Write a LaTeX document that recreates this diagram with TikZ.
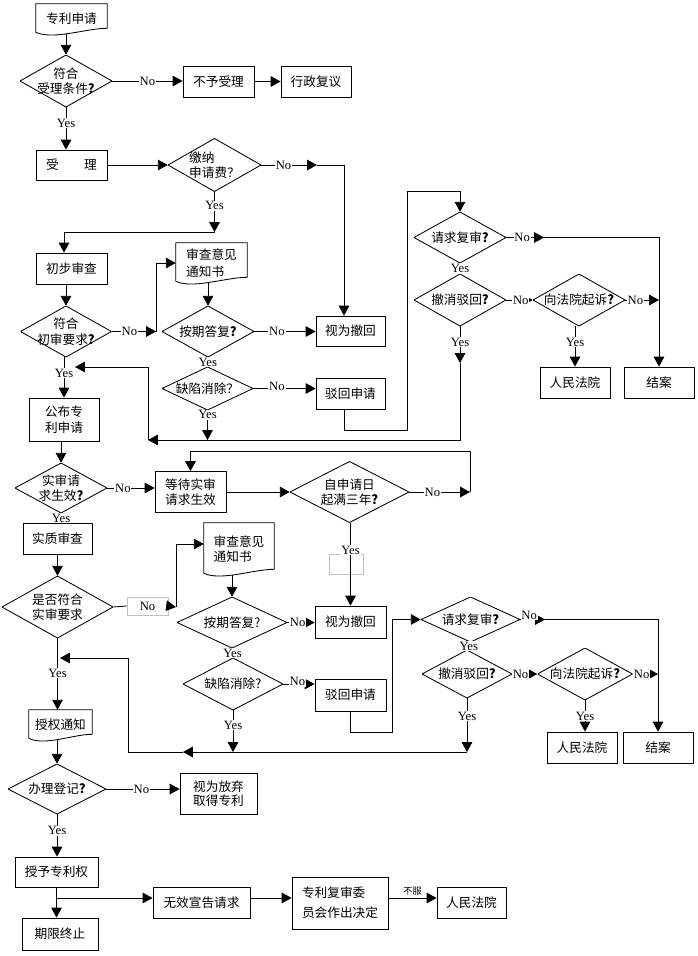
\documentclass[tikz,border=0pt]{standalone}
\usepackage{fontspec}
\setmainfont{Noto Sans CJK SC}
\newfontfamily\latfont{Liberation Serif}
\usetikzlibrary{arrows.meta}
\usetikzlibrary{calc}
\definecolor{fcink}{HTML}{000000}
\definecolor{fcgray}{HTML}{C0C0C0}
\newcommand{\fcfont}{\fontsize{9}{11}\selectfont}
\tikzset{
  sz/.style 2 args={minimum width=#1*0.025cm, minimum height=#2*0.025cm},
  fcbox/.style={
    draw=fcink, line width=0.6pt, inner sep=0pt, align=center, font=\fcfont},
  fcdoc/.style={inner sep=0pt, align=left, font=\fcfont},
  fcdec/.style={
    inner sep=0pt, align=center, font=\fcfont,
    path picture={
      \draw[fcink, line width=0.6pt]
        (path picture bounding box.north) -- (path picture bounding box.east)
        -- (path picture bounding box.south) -- (path picture bounding box.west)
        -- cycle;}},
  fcghost/.style={draw=fcgray, line width=0.6pt, inner sep=0pt,
    font=\latfont\fontsize{9}{10}\selectfont},
  fcline/.style={draw=fcink, line width=0.6pt},
  fcarrow/.style={fcline, -{Triangle[length=7pt, width=7.5pt]}},
  fclab/.style={font=\latfont\fontsize{9}{10}\selectfont, fill=white,
    inner sep=0.6pt},
}
% outline of a document symbol with a wavy lower edge
\newcommand{\docwave}[1]{%
  \draw[fcline] ($(#1.south west)+(0,-2)$) -- (#1.north west) -- (#1.north east)
    -- ($(#1.south east)+(0,-6)$)
    .. controls ($(#1.south)!0.4!(#1.south east)+(0,-6)$)
       and ($(#1.south west)!0.5!(#1.south)+(0,6)$) .. ($(#1.south west)+(0,-2)$);}

\begin{document}
\begin{tikzpicture}[x=0.025cm, y=-0.025cm]
\useasboundingbox (0,0) rectangle (698,956);

% Filing and acceptance.
\node[fcdoc, sz={71}{30}] (apply) at (71.5,19) {专利申请};
\docwave{apply}
\node[fcdec, sz={92}{52}] (okfile) at (66,81) {符合\\受理条件\textbf{?}};
\node[fcbox, sz={71}{31}] (refuse) at (218.5,81.5) {不予受理};
\node[fcbox, sz={70}{31}] (appeal) at (316,81.5) {行政复议};
\node[fcbox, sz={71}{30}] (accept) at (71.5,165) {受　　理};
\node[fcdec, sz={93}{53}, align=left] (feepaid) at (214.5,165) {缴纳\\申请费？};

% Preliminary examination.
\node[fcbox, sz={71}{31}] (prelim) at (71.5,268.5) {初步审查};
\node[fcdec, sz={91}{51}] (okprelim) at (66,331.5) {符合\\初审要求\textbf{?}};
\node[fcdoc, sz={71}{40}, font=\fontsize{9}{12}\selectfont] (notice1)
  at (211.5,263) {审查意见\\通知书};
\docwave{notice1}
\node[fcdec, sz={92}{51}] (reply1) at (208,331.5) {按期答复\textbf{?}};
\node[fcdec, sz={91}{43}] (fixed1) at (207.5,388.5) {缺陷消除？};
\node[fcbox, sz={69}{30}] (lapse1) at (350.5,331) {视为撤回};
\node[fcbox, sz={69}{31}] (reject1) at (350.5,393.5) {驳回申请};
\node[fcdec, sz={92}{51}] (recheck1) at (460,237.5) {请求复审\textbf{?}};
\node[fcdec, sz={92}{52}] (revoke1) at (460,300) {撤消驳回\textbf{?}};
\node[fcdec, sz={92}{52}] (sue1) at (579,300) {向法院起诉\textbf{?}};
\node[fcbox, sz={70}{31}] (court1) at (575,382.5) {人民法院};
\node[fcbox, sz={70}{31}] (close1) at (659,382.5) {结案};

% Publication and request for substantive examination.
\node[fcbox, sz={70}{43}] (publish) at (64,419.5) {公布专\\利申请};
\node[fcdec, sz={92}{50}] (subreq) at (61,488) {实审请\\求生效\textbf{?}};
\node[fcbox, sz={71}{41}] (wait) at (190.5,492) {等待实审\\请求生效};
\node[fcdec, sz={119}{61}] (threeyr) at (349.5,492) {自申请日\\起满三年\textbf{?}};
\node[fcghost, sz={34}{20}] (stub) at (346,564) {};

% Substantive examination.
\node[fcbox, sz={69}{31}] (subexam) at (57.5,538.5) {实质审查};
\node[fcdec, sz={111}{62}] (oksub) at (57.5,607) {是否符合\\实审要求};
\node[fcghost, sz={41}{18}] (nobox) at (147.5,606) {No};
\node[fcdoc, sz={70}{52}, font=\fontsize{9}{11}\selectfont] (notice2)
  at (239,549) {审查意见\\通知书};
\docwave{notice2}
\node[fcdec, sz={110}{51}] (reply2) at (232,622.5) {按期答复?};
\node[fcbox, sz={71}{32}] (lapse2) at (350.5,622) {视为撤回};
\node[fcdec, sz={100}{52}] (fixed2) at (233,684) {缺陷消除?};
\node[fcbox, sz={71}{32}] (reject2) at (350.5,695) {驳回申请};
\node[fcdec, sz={99}{45}] (recheck2) at (470.5,619.5) {请求复审\textbf{?}};
\node[fcdec, sz={90}{48}] (revoke2) at (467,674) {撤消驳回\textbf{?}};
\node[fcdec, sz={95}{52}] (sue2) at (585,674) {向法院起诉\textbf{?}};
\node[fcbox, sz={70}{31}] (court2) at (582,747.5) {人民法院};
\node[fcbox, sz={70}{31}] (close2) at (658,747.5) {结案};

% Grant and afterwards.
\node[fcdoc, sz={63}{30}] (grantnote) at (60.5,725) {授权通知};
\docwave{grantnote}
\node[fcdec, sz={98}{50}] (register) at (57,789) {办理登记\textbf{?}};
\node[fcbox, sz={77}{41}, align=left, font=\fontsize{9}{9.5}\selectfont]
  (abandon) at (218.5,793.5) {视为放弃\\取得专利};
\node[fcbox, sz={83}{30}] (grant) at (56.5,872) {授予专利权};
\node[fcbox, sz={76}{32}] (expire) at (60,934) {期限终止};
\node[fcbox, sz={97}{31}] (invalid) at (201.5,902.5) {无效宣告请求};
\node[fcbox, sz={96}{52}, align=left, font=\fontsize{9}{14}\selectfont]
  (board) at (340,903) {专利复审委\\员会作出决定};
\node[fcbox, sz={69}{31}] (court3) at (471.5,902.5) {人民法院};

% Bends of the connectors.
\coordinate (feemid) at (317,165);
\coordinate (feeturn) at (344,165);
\coordinate (prelimin) at (64,232);
\coordinate (prelimno) at (156,331.5);
\coordinate (r1a) at (344,430);
\coordinate (r1b) at (407,430);
\coordinate (r1c) at (407,191);
\coordinate (r1d) at (460,191);
\coordinate (rc1mid) at (544,237.5);
\coordinate (rc1turn) at (659,237.5);
\coordinate (rv1a) at (460,363);
\coordinate (rv1b) at (460,440);
\coordinate (back1a) at (148,440);
\coordinate (back1b) at (148,367);
\coordinate (back1c) at (75,367);
\coordinate (thrno) at (470,492);
\coordinate (thrup) at (470,451);
\coordinate (subno) at (176,607);
\coordinate (subup) at (176,544);
\coordinate (r2a) at (350.5,732);
\coordinate (r2b) at (392,732);
\coordinate (r2c) at (392,619.5);
\coordinate (rc2mid) at (545,619.5);
\coordinate (rc2turn) at (658,619.5);
\coordinate (back2a) at (128,752);
\coordinate (back2m) at (183,752);
\coordinate (back2b) at (128,658);
\coordinate (back2c) at (60,658);
\coordinate (gbr) at (56.5,898);

% Filing and acceptance.
\draw[fcarrow] (okfile.north |- apply.south) -- (okfile.north);
\draw[fcarrow] (okfile.east) -- node[fclab]{No} (okfile.east -| refuse.west);
\draw[fcarrow] (refuse.east) -- (appeal.west);
\draw[fcarrow] (okfile.south) -- node[fclab, pos=0.37]{Yes}
  (okfile.south |- accept.north);
\draw[fcarrow] (accept.east) -- (feepaid.west);
\draw[fcarrow] (feepaid.east) -- node[fclab, pos=0.4]{No} (feemid);
\draw[fcarrow] (feemid) -- (feeturn) -- (feeturn |- lapse1.north);
\draw[fcarrow] (feepaid.south) -- node[fclab, pos=0.35]{Yes}
  (feepaid.south |- prelimin);
\draw[fcarrow] (feepaid.south |- prelimin) -- (prelimin)
  -- (prelimin |- prelim.north);

% Preliminary examination.
\draw[fcarrow] (okprelim.north |- prelim.south) -- (okprelim.north);
\draw[fcarrow] (okprelim.east) -- node[fclab, pos=0.4]{No} (prelimno);
\draw[fcarrow] (prelimno) -- (prelimno |- notice1.west) -- (notice1.west);
\draw[fcarrow] (reply1.north |- notice1.south) -- (reply1.north);
\draw[fcarrow] (reply1.east) -- node[fclab, pos=0.37]{No}
  (reply1.east -| lapse1.west);
\draw[fcline] (reply1.south) -- node[fclab]{Yes} (fixed1.north);
\draw[fcarrow] (fixed1.east) -- node[fclab, pos=0.38, yshift=1.5pt]{No}
  (fixed1.east -| reject1.west);
\draw[fcarrow] (r1a |- reject1.south) -- (r1a) -- (r1b) -- (r1c) -- (r1d)
  -- (recheck1.north);
\draw[fcarrow] (recheck1.east) -- node[fclab, pos=0.42]{No} (rc1mid);
\draw[fcarrow] (rc1mid) -- (rc1turn) -- (rc1turn |- close1.north);
\draw[fcline] (recheck1.south) -- node[fclab]{Yes} (revoke1.north);
\draw[fcarrow] (revoke1.east) -- node[fclab, pos=0.55]{No} (sue1.west);
\draw[fcarrow] (sue1.east) -- node[fclab, pos=0.3]{No} (sue1.east -| rc1turn);
\draw[fcarrow] (court1.north |- sue1.south) -- node[fclab, pos=0.4]{Yes}
  (court1.north);
\draw[fcarrow] (revoke1.south) -- node[fclab, pos=0.43]{Yes} (rv1a);
\draw[fcarrow] (rv1a) -- (rv1b) -- (back1a);
\draw[fcarrow] (back1a) -- (back1b) -- (back1c);
\draw[fcarrow] (fixed1.south) -- node[fclab, pos=0.15]{Yes}
  (fixed1.south |- back1a);

% Publication and the three-year limit.
\draw[fcarrow] (publish.north |- okprelim.south) -- node[fclab, pos=0.4]{Yes}
  (publish.north);
\draw[fcarrow] (subreq.north |- publish.south) -- (subreq.north);
\draw[fcarrow] (subreq.east) -- node[fclab, pos=0.33]{No}
  (subreq.east -| wait.west);
\draw[fcarrow] (wait.east) -- (wait.east -| threeyr.west);
\draw[fcarrow] (threeyr.east) -- node[fclab, pos=0.38]{No} (thrno);
\draw[fcarrow] (thrno) -- (thrup) -- (thrup -| wait.north) -- (wait.north);
\draw[fcarrow] (lapse2.north |- threeyr.south) -- node[fclab, pos=0.33]{Yes}
  (lapse2.north);
\draw[fcline] (subreq.south) -- node[fclab]{Yes} (subreq.south |- subexam.north);

% Substantive examination.
\draw[fcarrow] (oksub.north |- subexam.south) -- (oksub.north);
\draw[fcline] (oksub.east) -- (nobox.west);
\draw[fcarrow] (nobox.east) -- (subno);
\draw[fcarrow] (subno) -- (subup) -- (subup -| notice2.west);
\draw[fcarrow] (reply2.north |- notice2.south) -- (reply2.north);
\draw[fcarrow] (reply2.east) -- node[fclab, pos=0.38]{No}
  (reply2.east -| lapse2.west);
\draw[fcline] (reply2.south) -- node[fclab]{Yes} (fixed2.north);
\draw[fcarrow] (fixed2.east) -- node[fclab, pos=0.45, yshift=1.5pt]{No}
  (fixed2.east -| reject2.west);
\draw[fcarrow] (reject2.south) -- (r2a) -- (r2b) -- (r2c) -- (recheck2.west);
\draw[fcarrow] (recheck2.east) -- node[fclab, pos=0.36, yshift=3pt]{No} (rc2mid);
\draw[fcarrow] (rc2mid) -- (rc2turn) -- (rc2turn |- close2.north);
\draw[fcline] (recheck2.south) -- node[fclab]{Yes} (revoke2.north);
\draw[fcarrow] (revoke2.east) -- node[fclab, pos=0.33]{No} (sue2.west);
\draw[fcarrow] (sue2.east) -- node[fclab, pos=0.35]{No} (sue2.east -| rc2turn);
\draw[fcarrow] (sue2.south) -- node[fclab]{Yes} (sue2.south |- court2.north);
\draw[fcarrow] (revoke2.south) -- node[fclab, pos=0.33]{Yes}
  (revoke2.south |- back2a);
\draw[fcarrow] (revoke2.south |- back2a) -- (back2m);
\draw[fcarrow] (back2m) -- (back2a) -- (back2b) -- (back2c);
\draw[fcarrow] (fixed2.south) -- node[fclab, pos=0.36]{Yes}
  (fixed2.south |- back2a);

% Grant, registration and invalidation.
\draw[fcarrow] (oksub.south) -- node[fclab, pos=0.49]{Yes}
  (oksub.south |- grantnote.north);
\draw[fcarrow] (register.north |- grantnote.south) -- (register.north);
\draw[fcarrow] (register.east) -- node[fclab, pos=0.48]{No}
  (register.east -| abandon.west);
\draw[fcarrow] (register.south) -- node[fclab, pos=0.39]{Yes}
  (register.south |- grant.north);
\draw[fcarrow] (grant.south) -- (grant.south |- expire.north);
\draw[fcarrow] (gbr) -- (gbr -| invalid.west);
\draw[fcarrow] (gbr -| invalid.east) -- (gbr -| board.west);
\draw[fcarrow] (gbr -| board.east) -- node[above, inner sep=1.5pt,
  font=\fontsize{6.5}{7}\selectfont]{不服} (gbr -| court3.west);

\end{tikzpicture}
\end{document}
